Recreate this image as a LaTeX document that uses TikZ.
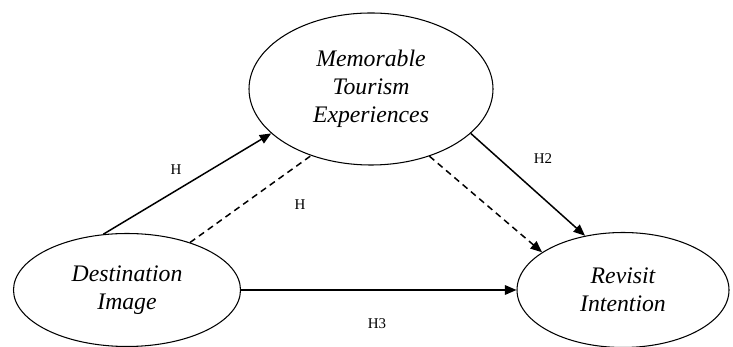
\documentclass[tikz,border=0pt]{standalone}
\usepackage{fontspec}
\setmainfont{Liberation Serif}
\usetikzlibrary{
  arrows.meta,
  shapes.geometric
}
\tikzset{
  >={Triangle[length=2.3mm,width=1.9mm]},
  effect/.style={->,line width=.85pt,draw=black},
  mediated/.style={line width=.85pt,draw=black,dash pattern=on 3.6pt off 2.6pt},
  latent/.style={
    ellipse,
    draw=black,
    line width=.6pt,
    align=center,
    inner sep=1pt,
    font=\fontsize{13.5}{16}\selectfont\itshape
  },
  hyplabel/.style={font=\fontsize{8.5}{10}\selectfont,inner sep=1pt}
}

\begin{document}
\begin{tikzpicture}
  \useasboundingbox (0,0) rectangle (14.66,-6.94);

  \node[latent,minimum width=4.88cm,minimum height=3.04cm] (mte) at (7.42,-1.78)
    {Memorable\\Tourism\\Experiences};
  \node[latent,minimum width=4.54cm,minimum height=2.26cm] (di) at (2.54,-5.80)
    {Destination\\Image};
  \node[latent,minimum width=4.24cm,minimum height=2.30cm] (ri) at (12.46,-5.80)
    {Revisit\\Intention};

  \draw[effect] (di.113) -- (mte.204);
  \draw[mediated] (di.37) -- (mte.228);
  \draw[effect] (mte.336) -- (ri.125);
  \draw[mediated,->] (mte.311) -- (ri.155);
  \draw[effect] (di.east) -- (ri.west);

  \node[hyplabel] (h1) at (3.52,-3.40) {H};
  \node[hyplabel] (h4) at (6.00,-4.10) {H};
  \node[hyplabel] (h2) at (10.86,-3.18) {H2};
  \node[hyplabel] (h3) at (7.54,-6.48) {H3};
\end{tikzpicture}
\end{document}
